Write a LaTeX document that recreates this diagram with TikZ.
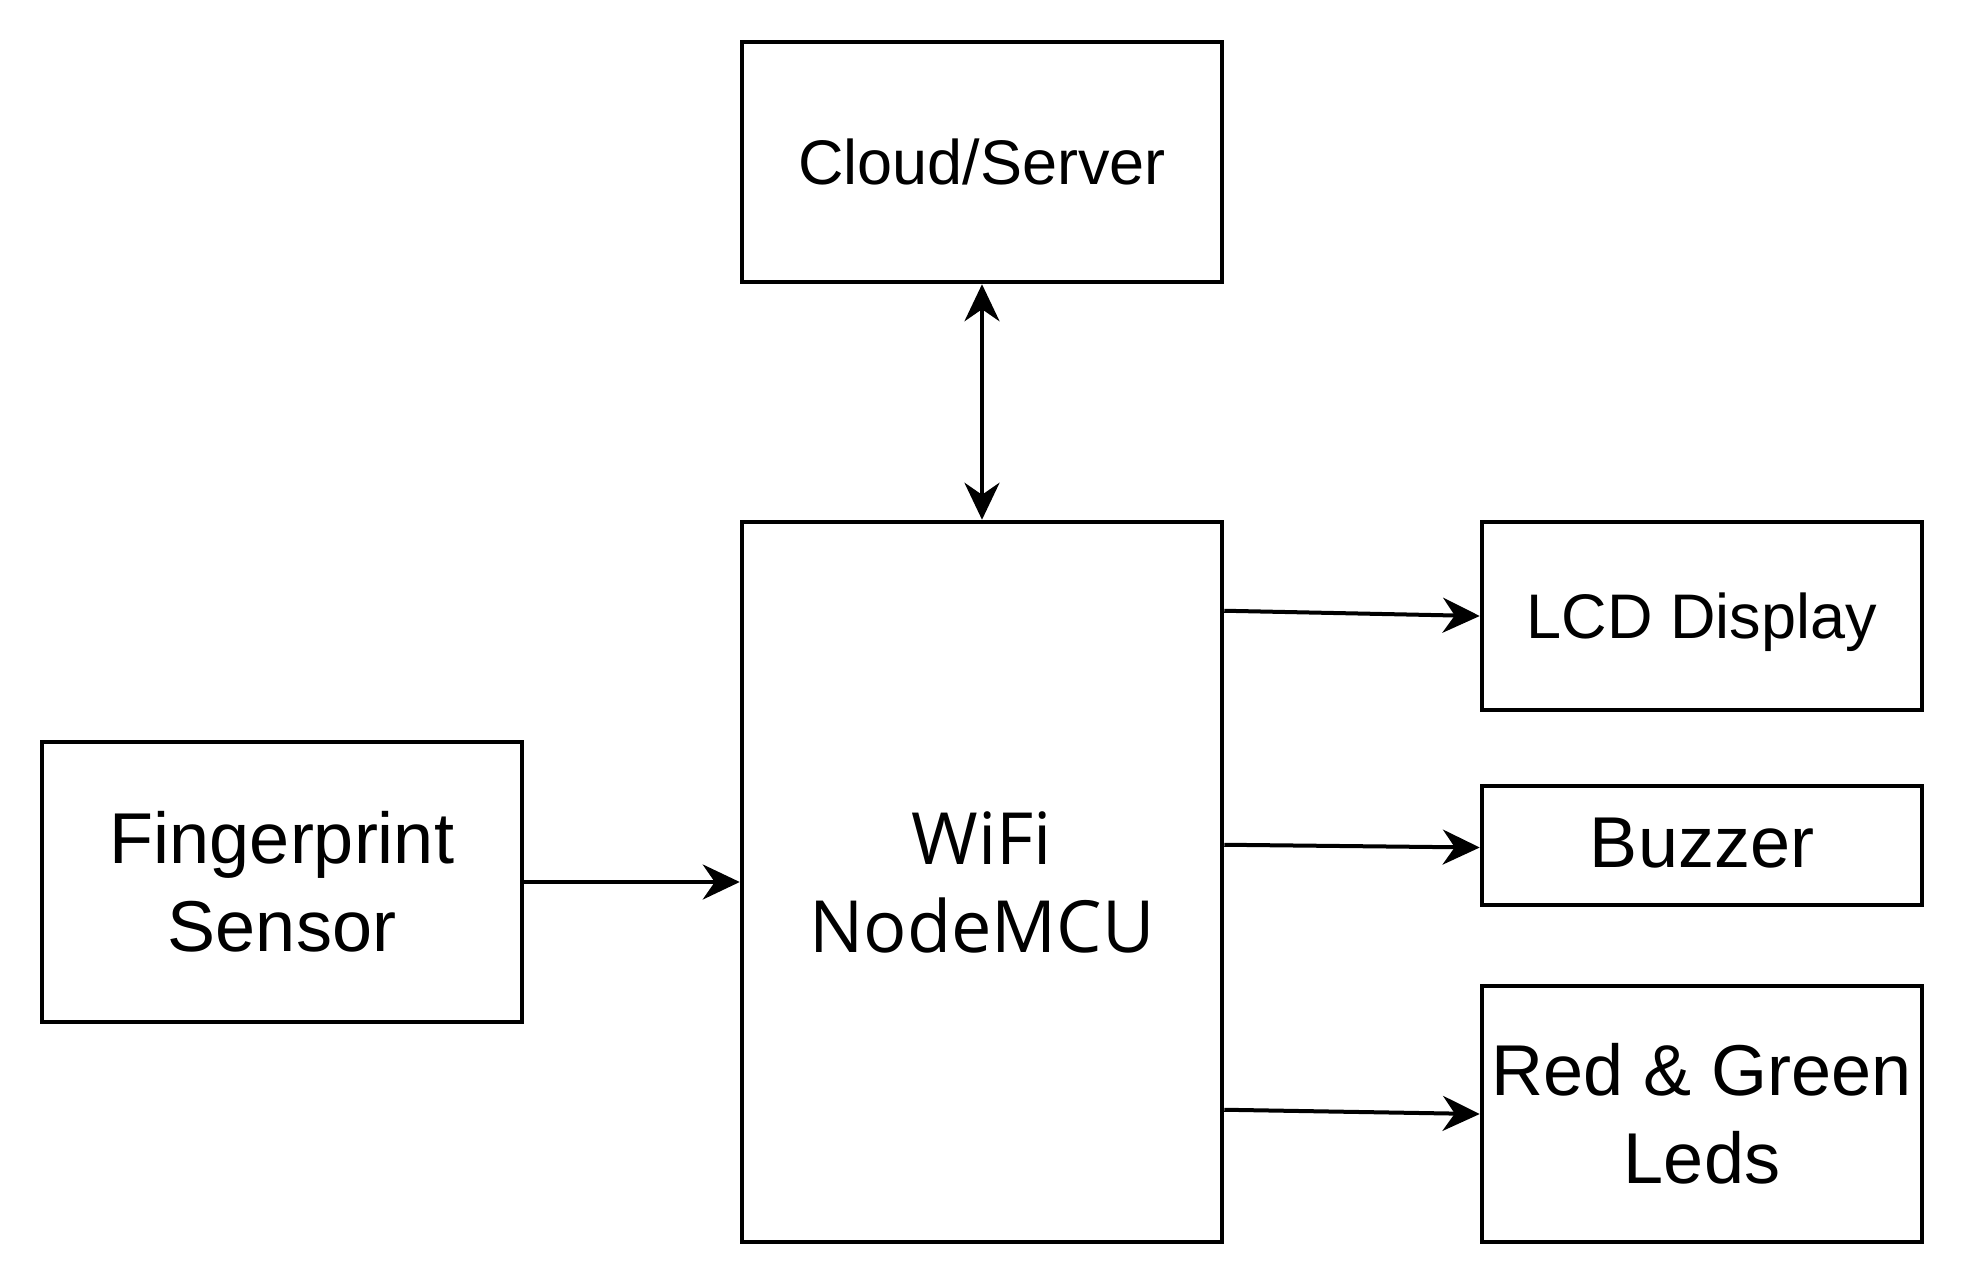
\documentclass[tikz,border=0pt]{standalone}
\usepackage{fontspec}
\setmainfont{Liberation Sans}
\newfontfamily\segfont{Open Sans}
\usetikzlibrary{arrows.meta}
\tikzset{
  blk/.style={draw=black, line width=4.5pt, fill=white, inner sep=0pt, align=center},
  big/.style={font=\fontsize{72}{88}\selectfont},
  mid/.style={font=\fontsize{63}{76}\selectfont},
  arr/.style={line width=4pt, -{Stealth[length=37pt, width=35pt, inset=12pt]}},
  darr/.style={line width=4pt, {Stealth[length=37pt, width=35pt, inset=12pt]}-{Stealth[length=37pt, width=35pt, inset=12pt]}}
}
\begin{document}
\begin{tikzpicture}[x=1pt, y=-1pt]
\useasboundingbox (0,0) rectangle (1964,1284);
\fill[white] (0,0) rectangle (1964,1284);
\node[blk, mid, minimum width=480pt, minimum height=240pt] (cloud) at (982,162) {Cloud/Server};
\node[blk, big, minimum width=480pt, minimum height=720pt] (mcu) at (982,882) {\segfont WiFi\\\segfont NodeMCU};
\node[blk, big, minimum width=480pt, minimum height=280pt] (fp) at (282,882) {Fingerprint\\Sensor};
\node[blk, mid, minimum width=440pt, minimum height=188pt] (lcd) at (1702,616) {\raisebox{-6pt}[\height][\depth]{LCD Display}};
\node[blk, big, minimum width=440pt, minimum height=119pt] (buz) at (1702,845.5) {\raisebox{2pt}[\height][\depth]{Buzzer}};
\node[blk, big, minimum width=440pt, minimum height=256pt] (led) at (1702,1114) {Red \& Green\\Leds};
\draw[darr] (cloud.south) -- (mcu.north);
\draw[arr] (fp.east) -- (mcu.west);
\draw[arr] ([yshift=-91pt]mcu.north east) -- (lcd.west);
\draw[arr] ([yshift=-325pt]mcu.north east) -- ([yshift=-2pt]buz.west);
\draw[arr] ([yshift=-590pt]mcu.north east) -- (led.west);
\end{tikzpicture}
\end{document}
